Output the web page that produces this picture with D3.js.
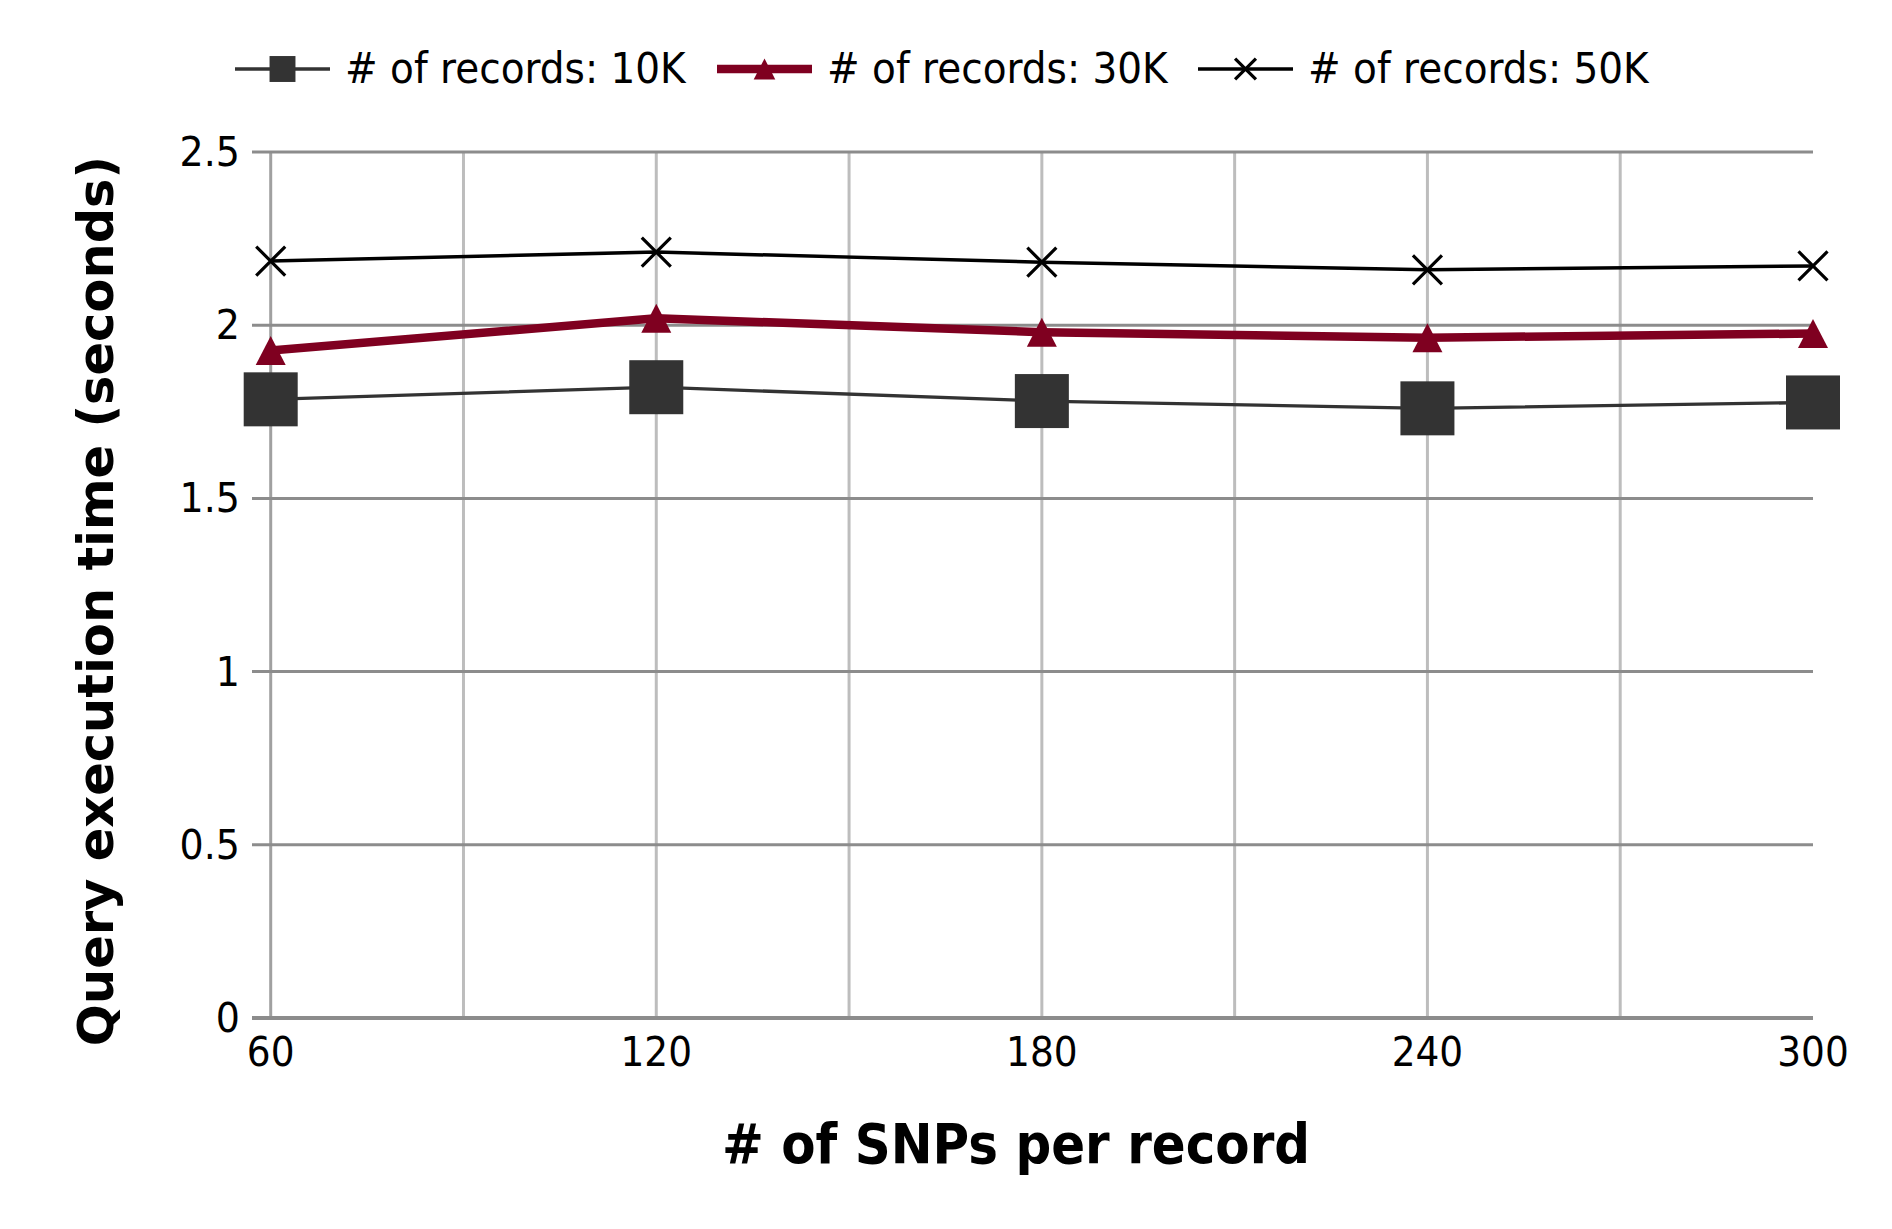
<!DOCTYPE html>
<html>
<head>
<meta charset="utf-8">
<script src="https://cdn.jsdelivr.net/npm/d3@7"></script>
<style>
  html, body { margin: 0; padding: 0; background: #fff; }
  svg { display: block; }
  text { font-family: "DejaVu Sans", sans-serif; }
</style>
</head>
<body>
<svg id="chart" width="1892" height="1229"></svg>
<script>
// ---- data ----
const snpsPerRecord = [60, 120, 180, 240, 300];
const xTickLabels = ["60", "120", "180", "240", "300"];
const records10K = [1.786, 1.821, 1.781, 1.760, 1.777];
const records30K = [1.927, 2.020, 1.980, 1.964, 1.976];
const records50K = [2.185, 2.211, 2.182, 2.160, 2.171];
const yTickValues = [0, 0.5, 1, 1.5, 2, 2.5];
const yTickLabels = ["0", "0.5", "1", "1.5", "2", "2.5"];
const seriesNames = ["# of records: 10K", "# of records: 30K", "# of records: 50K"];
const xTitle = "# of SNPs per record";
const yTitle = "Query execution time (seconds)";

// ---- layout ----
const svg = d3.select("#chart");
const X0 = 270.7, X1 = 1813, Y0 = 1018, Y1 = 152;
const x = d3.scaleLinear().domain([60, 300]).range([X0, X1]);
const y = d3.scaleLinear().domain([0, 2.5]).range([Y0, Y1]);
const SY = 1.08;

function addText(g, tx, ty, str, size, anchor, weight, sy) {
  return g.append("text")
    .attr("transform", `translate(${tx},${ty}) scale(1,${sy})`)
    .attr("text-anchor", anchor)
    .attr("font-size", size)
    .attr("font-weight", weight || "normal")
    .attr("fill", "#000")
    .text(str);
}

// vertical grid lines
const vGrid = d3.range(60, 300, 30);
svg.append("g").selectAll("line").data(vGrid).join("line")
  .attr("x1", d => x(d)).attr("x2", d => x(d))
  .attr("y1", Y1).attr("y2", Y0)
  .attr("stroke", (d, i) => i === 0 ? "#a0a0a0" : "#bdbdbd")
  .attr("stroke-width", 3);

// horizontal grid lines (extend left as ticks)
svg.append("g").selectAll("line").data(yTickValues).join("line")
  .attr("x1", 252).attr("x2", X1)
  .attr("y1", d => y(d)).attr("y2", d => y(d))
  .attr("stroke", "#8c8c8c")
  .attr("stroke-width", d => d === 0 ? 4 : 3);

// y tick labels
const gyt = svg.append("g");
yTickValues.forEach((v, i) => addText(gyt, 240, y(v) + 14, yTickLabels[i], 38, "end", "normal", SY));

// x tick labels
const gxt = svg.append("g");
snpsPerRecord.forEach((v, i) => addText(gxt, x(v), 1066, xTickLabels[i], 37.5, "middle", "normal", SY));

// axis titles
addText(svg, 1016, 1163, xTitle, 50, "middle", "bold", 1.1);
svg.append("text")
  .attr("transform", `translate(113,601) rotate(-90)`)
  .attr("text-anchor", "middle")
  .attr("font-size", 49.5)
  .attr("font-weight", "bold")
  .text(yTitle);

// series
const series = [
  { name: seriesNames[0], values: records10K, color: "#333333", width: 3.3, marker: "square" },
  { name: seriesNames[1], values: records30K, color: "#7f0020", width: 8.5, marker: "triangle" },
  { name: seriesNames[2], values: records50K, color: "#000000", width: 3.5, marker: "cross" }
];

const line = d3.line().x((d, i) => x(snpsPerRecord[i])).y(d => y(d));

function drawMarker(g, type, cx, cy, color, scale) {
  if (type === "square") {
    const s = 54 * scale;
    g.append("rect").attr("x", cx - s / 2).attr("y", cy - s / 2)
      .attr("width", s).attr("height", s).attr("fill", color);
  } else if (type === "triangle") {
    const w = 30 * scale, h = 29 * scale;
    g.append("path")
      .attr("d", `M${cx},${cy - h / 2}L${cx + w / 2},${cy + h / 2}L${cx - w / 2},${cy + h / 2}Z`)
      .attr("fill", color);
  } else {
    const r = 14.5 * scale;
    g.append("path")
      .attr("d", `M${cx - r},${cy - r}L${cx + r},${cy + r}M${cx - r},${cy + r}L${cx + r},${cy - r}`)
      .attr("stroke", color).attr("stroke-width", 3.2).attr("fill", "none");
  }
}

series.forEach(s => {
  const g = svg.append("g");
  g.append("path").datum(s.values).attr("d", line)
    .attr("fill", "none").attr("stroke", s.color)
    .attr("stroke-width", s.width).attr("stroke-linejoin", "round");
  s.values.forEach((v, i) => drawMarker(g, s.marker, x(snpsPerRecord[i]), y(v), s.color, 1));
});

// legend
const legendX = [235, 717, 1198];
const legMarkerScale = [0.48, 0.72, 0.72];
series.forEach((s, i) => {
  const g = svg.append("g");
  const lx = legendX[i], ly = 69;
  g.append("line").attr("x1", lx).attr("x2", lx + 95).attr("y1", ly).attr("y2", ly)
    .attr("stroke", s.color).attr("stroke-width", s.width);
  drawMarker(g, s.marker, lx + 47.5, ly, s.color, legMarkerScale[i]);
  addText(g, lx + 110, 83, s.name, 39, "start", "normal", SY);
});
</script>
</body>
</html>
